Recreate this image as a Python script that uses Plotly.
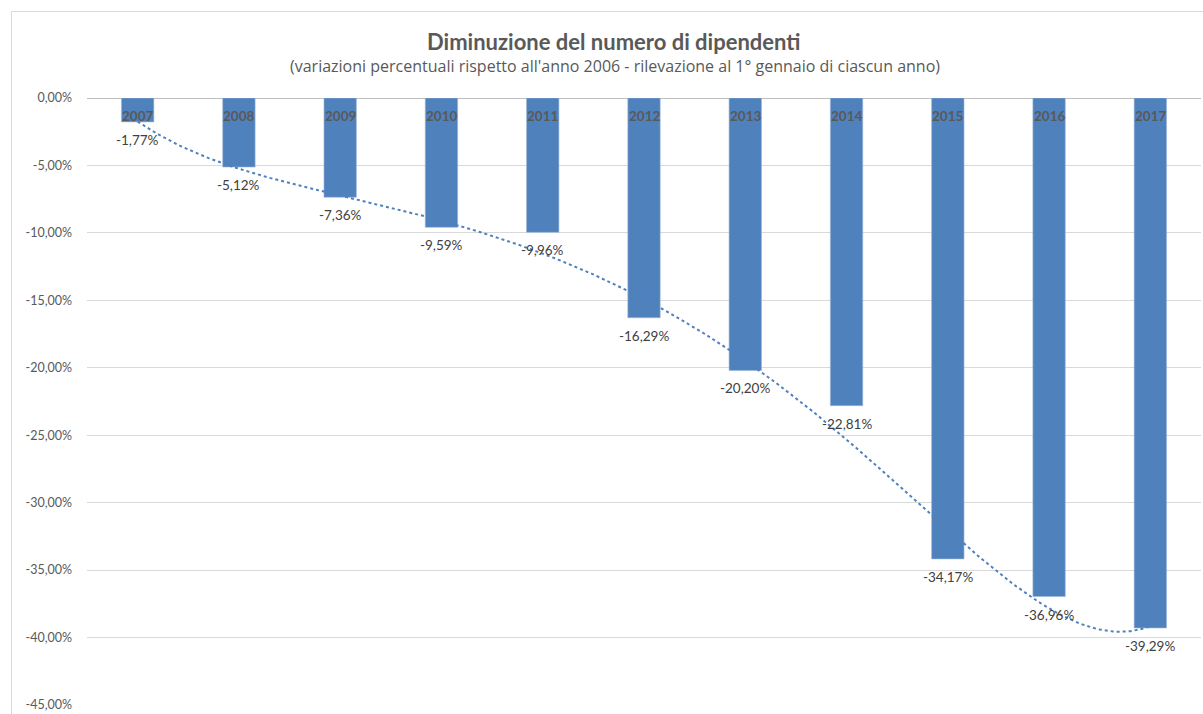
import numpy as np
import plotly.graph_objects as go

years = [2007, 2008, 2009, 2010, 2011, 2012, 2013, 2014, 2015, 2016, 2017]
values = [-1.77, -5.12, -7.36, -9.59, -9.96, -16.29, -20.20, -22.81, -34.17, -36.96, -39.29]
y_ticks = [0, -5, -10, -15, -20, -25, -30, -35, -40, -45]
y_ticktext = ["0,00%", "-5,00%", "-10,00%", "-15,00%", "-20,00%", "-25,00%", "-30,00%", "-35,00%", "-40,00%", "-45,00%"]
title = "Diminuzione del numero di dipendenti"
subtitle = "(variazioni percentuali rispetto all'anno 2006 - rilevazione al 1° gennaio di ciascun anno)"
TREND_DEGREE = 6

FONT = "Lato, Open Sans, sans-serif"
BAR = "#4F81BD"
TXT = "#595959"

coef = np.polyfit(np.array(years, float) - 2012, values, TREND_DEGREE)
tx = np.linspace(years[0], years[-1], 300)
ty = np.polyval(coef, tx - 2012)

W, H = 1203, 714
L, R, T, B = 87, 2, 98, 9
pw = W - L - R
ph = H - T - B
def px(x):
    return (x - L) / pw
def py(y):
    return (H - B - y) / ph

fig = go.Figure()
fig.add_trace(go.Bar(x=years, y=values, marker=dict(color=BAR, line=dict(color="#9DB8DA", width=0.6)),
                     width=0.32, hoverinfo="skip", showlegend=False))
fig.add_trace(go.Scatter(x=tx, y=ty, mode="lines", line=dict(color=BAR, width=2, dash="dot"),
                         hoverinfo="skip", showlegend=False))

for yr, v in zip(years, values):
    fig.add_annotation(x=yr, y=0, xref="x", yref="y", text="<b>%d</b>" % yr, showarrow=False,
                       yanchor="middle", yshift=-18, font=dict(family=FONT, size=13.5, color=TXT))
    fig.add_annotation(x=yr, y=v, xref="x", yref="y", text=("%.2f%%" % v).replace(".", ","), showarrow=False,
                       yanchor="top", yshift=-8, font=dict(family=FONT, size=13.5, color="#404040"))

fig.add_annotation(x=px(614), y=py(41), xref="paper", yref="paper", text="<b>" + title + "</b>", showarrow=False,
                   yanchor="middle", xanchor="center", font=dict(family=FONT, size=22, color=TXT))
fig.add_annotation(x=px(615), y=py(66), xref="paper", yref="paper", text=subtitle, showarrow=False,
                   yanchor="middle", xanchor="center", font=dict(family="Open Sans, sans-serif", size=16, color=TXT))
fig.add_shape(type="rect", xref="paper", yref="paper", x0=px(11.5), y0=py(730), x1=px(1230), y1=py(11.5),
              line=dict(color="#D9D9D9", width=1), fillcolor="rgba(0,0,0,0)", layer="below")

fig.update_layout(
    width=W, height=H, margin=dict(l=L, r=R, t=T, b=B),
    paper_bgcolor="white", plot_bgcolor="white",
    xaxis=dict(range=[2006.5, 2017.5], showticklabels=False, showgrid=False, zeroline=False, fixedrange=True),
    yaxis=dict(range=[-45, 0], tickvals=y_ticks, ticktext=y_ticktext, showgrid=True, gridcolor="#D9D9D9",
               gridwidth=1, zeroline=True, zerolinecolor="#BFBFBF", zerolinewidth=1,
               tickfont=dict(family=FONT, size=12.5, color=TXT), ticks="", ticklabelstandoff=14),
    font=dict(family=FONT),
)
fig.write_html("out.html")
